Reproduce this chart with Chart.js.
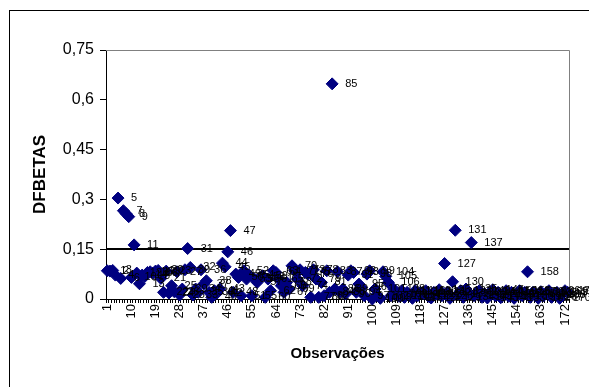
<!DOCTYPE html>
<html>
<head>
<meta charset="utf-8">
<script src="https://cdn.jsdelivr.net/npm/chart.js@4/dist/chart.umd.min.js"></script>
<style>
  html, body { margin: 0; padding: 0; background: #fff; }
  #wrap { position: relative; width: 589px; height: 387px; overflow: hidden; }
  #frame { position: absolute; left: 9px; top: 10px; width: 700px; height: 500px;
           border-left: 1px solid #000; border-top: 1px solid #000; }
  canvas { position: absolute; left: 0; top: 0; }
</style>
</head>
<body>
<div id="wrap">
  <div id="frame"></div>
  <canvas id="chart" width="589" height="387"></canvas>
</div>
<script>
// observation numbers 1..173
const observations = Array.from({ length: 173 }, (_, i) => i + 1);

const dfbetas1 = [0.085, 0.084, 0.086, 0.072, 0.304, 0.062, 0.266, 0.257, 0.248, 0.065];
const dfbetas2 = [0.163, 0.078, 0.046, 0.072, 0.068, 0.080, 0.082, 0.078, 0.084, 0.086];
const dfbetas3 = [0.062, 0.020, 0.084, 0.018, 0.040, 0.022, 0.082, 0.012, 0.030, 0.088];
const dfbetas4 = [0.152, 0.095, 0.012, 0.030, 0.020, 0.088, 0.045, 0.055, 0.020, 0.005];
const dfbetas5 = [0.025, 0.018, 0.030, 0.108, 0.097, 0.142, 0.206, 0.020, 0.075, 0.065];
const dfbetas6 = [0.010, 0.085, 0.060, 0.072, 0.010, 0.060, 0.050, 0.065, 0.070, 0.005];
const dfbetas7 = [0.060, 0.025, 0.085, 0.080, 0.060, 0.040, 0.020, 0.050, 0.030, 0.100];
const dfbetas8 = [0.085, 0.060, 0.088, 0.040, 0.080, 0.075, 0.005, 0.088, 0.060, 0.005];
const dfbetas9 = [0.050, 0.010, 0.085, 0.020, 0.648, 0.030, 0.082, 0.020, 0.030, 0.015];
const dfbetas10 = [0.072, 0.085, 0.080, 0.020, 0.045, 0.035, 0.010, 0.075, 0.085, 0.000];
const dfbetas11 = [0.030, 0.010, 0.002, 0.082, 0.068, 0.050, 0.010, 0.030, 0.015, 0.008];
const dfbetas12 = [0.025, 0.005, 0.020, 0.012, 0.002, 0.025, 0.010, 0.020, 0.015, 0.025];
const dfbetas13 = [0.008, 0.003, 0.020, 0.015, 0.028, 0.010, 0.107, 0.020, 0.002, 0.052];
const dfbetas14 = [0.207, 0.015, 0.025, 0.005, 0.030, 0.018, 0.170, 0.010, 0.020, 0.025];
const dfbetas15 = [0.005, 0.015, 0.003, 0.020, 0.028, 0.010, 0.020, 0.004, 0.015, 0.025];
const dfbetas16 = [0.008, 0.020, 0.002, 0.015, 0.025, 0.010, 0.020, 0.082, 0.005, 0.020];
const dfbetas17 = [0.015, 0.002, 0.022, 0.010, 0.018, 0.025, 0.005, 0.012, 0.020, 0.002];
const dfbetas18 = [0.015, 0.025, 0.020];
const dfbetas = [].concat(dfbetas1, dfbetas2, dfbetas3, dfbetas4, dfbetas5, dfbetas6,
  dfbetas7, dfbetas8, dfbetas9, dfbetas10, dfbetas11, dfbetas12, dfbetas13, dfbetas14,
  dfbetas15, dfbetas16, dfbetas17, dfbetas18);

const xTickLabels = [1, 10, 19, 28, 37, 46, 55, 64, 73, 82, 91, 100, 109, 118, 127, 136, 145, 154, 163, 172];
const yTickValues = [0, 0.15, 0.3, 0.45, 0.6, 0.75];
const yTickLabels = ["0", "0,15", "0,3", "0,45", "0,6", "0,75"];
const cutoff = 0.15;

const navy = "#000080";

// grey frame round the plot area, and the cut-off line at 0,15
const plotFrame = {
  id: "plotFrame",
  beforeDatasetsDraw(chart) {
    const { ctx, chartArea: a, scales } = chart;
    ctx.save();
    ctx.strokeStyle = "#808080";
    ctx.lineWidth = 1;
    ctx.beginPath();
    ctx.moveTo(a.left, a.top + 0.5);
    ctx.lineTo(a.right + 0.5, a.top + 0.5);
    ctx.lineTo(a.right + 0.5, a.bottom);
    ctx.stroke();
    const y = Math.round(scales.y.getPixelForValue(cutoff));
    ctx.strokeStyle = "#000";
    ctx.lineWidth = 2;
    ctx.beginPath();
    ctx.moveTo(a.left, y);
    ctx.lineTo(a.right, y);
    ctx.stroke();
    ctx.restore();
  }
};

// observation number written to the right of every point
const pointLabels = {
  id: "pointLabels",
  afterDatasetsDraw(chart) {
    const { ctx } = chart;
    const meta = chart.getDatasetMeta(0);
    ctx.save();
    ctx.font = "11px 'Liberation Sans', Arial, sans-serif";
    ctx.fillStyle = "#000";
    ctx.textBaseline = "middle";
    ctx.textAlign = "left";
    meta.data.forEach((pt, i) => {
      ctx.fillText(String(observations[i]), pt.x + 13, pt.y);
    });
    ctx.restore();
  }
};

new Chart(document.getElementById("chart"), {
  type: "line",
  data: {
    labels: observations,
    datasets: [{
      data: dfbetas,
      showLine: false,
      pointStyle: "rectRot",
      pointRadius: 6,
      pointBorderWidth: 1,
      pointBackgroundColor: navy,
      pointBorderColor: navy,
      clip: false
    }]
  },
  options: {
    responsive: false,
    animation: false,
    layout: { padding: { left: 24, top: 50, right: 20, bottom: 24 } },
    plugins: {
      legend: { display: false },
      tooltip: { enabled: false }
    },
    scales: {
      x: {
        type: "category",
        offset: true,
        afterFit(scale) { scale.height = 64; },
        border: { color: "#000", width: 1 },
        grid: { display: true, drawOnChartArea: false, offset: true, tickLength: 4, color: "#000" },
        ticks: {
          autoSkip: false,
          minRotation: 90,
          maxRotation: 90,
          padding: 1,
          color: "#000",
          font: { family: "'Liberation Sans', Arial", size: 13 },
          callback(value, index) {
            const n = observations[index];
            return xTickLabels.includes(n) ? String(n) : "";
          }
        },
        title: {
          display: true,
          text: "Observações",
          color: "#000",
          padding: 0,
          font: { family: "'Liberation Sans', Arial", size: 15, weight: "bold" }
        }
      },
      y: {
        min: 0,
        max: 0.75,
        afterFit(scale) { scale.width = 82; },
        afterBuildTicks(scale) { scale.ticks = yTickValues.map(v => ({ value: v })); },
        border: { color: "#000", width: 1 },
        grid: { display: true, drawOnChartArea: false, tickLength: 6, color: "#000" },
        ticks: {
          padding: 6,
          color: "#000",
          font: { family: "'Liberation Sans', Arial", size: 16 },
          callback(value, index) { return yTickLabels[index]; }
        },
        title: {
          display: true,
          text: "DFBETAS",
          color: "#000",
          padding: { top: 6, bottom: 0 },
          font: { family: "'Liberation Sans', Arial", size: 17, weight: "bold" }
        }
      }
    }
  },
  plugins: [plotFrame, pointLabels]
});
</script>
</body>
</html>
